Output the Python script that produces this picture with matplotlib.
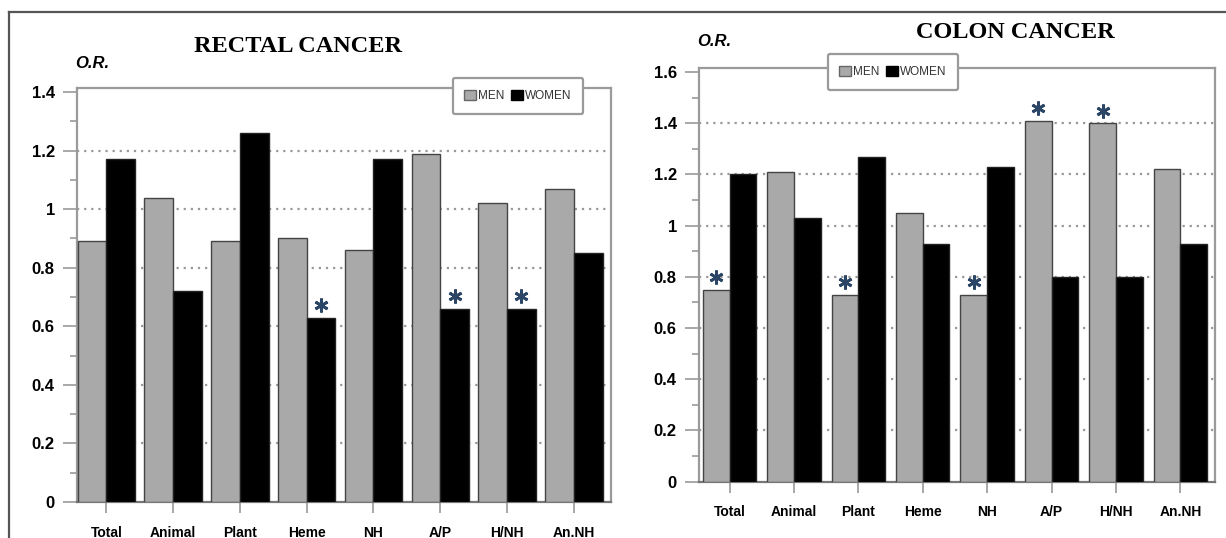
import matplotlib
matplotlib.use("Agg")
import matplotlib.pyplot as plt
import numpy as np
from matplotlib.lines import Line2D
from matplotlib.patches import Patch
from matplotlib.transforms import offset_copy
from matplotlib.ticker import MultipleLocator

categories = ["Total", "Animal", "Plant", "Heme", "NH", "A/P", "H/NH", "An.NH"]

rectal_men = [0.89, 1.04, 0.89, 0.90, 0.86, 1.19, 1.02, 1.07]
rectal_women = [1.17, 0.72, 1.26, 0.63, 1.17, 0.66, 0.66, 0.85]
rectal_sig_women = ["Heme", "A/P", "H/NH"]
rectal_sig_men = []

colon_men = [0.75, 1.21, 0.73, 1.05, 0.73, 1.41, 1.40, 1.22]
colon_women = [1.20, 1.03, 1.27, 0.93, 1.23, 0.80, 0.80, 0.93]
colon_sig_men = ["Total", "Plant", "NH", "A/P", "H/NH"]
colon_sig_women = []

yticks_rectal = [0, 0.2, 0.4, 0.6, 0.8, 1.0, 1.2, 1.4]
ytick_labels_rectal = ["0", "0.2", "0.4", "0.6", "0.8", "1", "1.2", "1.4"]
yticks_colon = [0, 0.2, 0.4, 0.6, 0.8, 1.0, 1.2, 1.4, 1.6]
ytick_labels_colon = ["0", "0.2", "0.4", "0.6", "0.8", "1", "1.2", "1.4", "1.6"]

MEN_C = "#a9a9a9"
WOMEN_C = "#000000"
FRAME_C = "#9a9a9a"
STAR_C = "#2b4566"

W, H = 1226, 538
fig = plt.figure(figsize=(W / 100, H / 100), dpi=100)
plt.rcParams["font.family"] = ["Liberation Sans", "DejaVu Sans"]


def fx(px):
    return px / W


def fy(py):
    return 1 - py / H


def panel(rect, men, women, sig_men, sig_women, yticks, ylabels, ymax,
          xlim, bw, title, title_xy, or_xy, leg_center):
    ax = fig.add_axes(rect)
    x = np.arange(len(categories))
    ax.bar(x - bw / 2, men, bw, color=MEN_C, edgecolor="#444444", linewidth=1.0, zorder=3)
    ax.bar(x + bw / 2, women, bw, color=WOMEN_C, edgecolor="#222222", linewidth=1.0, zorder=3)
    ax.set_ylim(0, ymax)
    ax.set_xlim(*xlim)
    ax.set_yticks(yticks)
    ax.set_yticklabels(ylabels, fontsize=12, fontweight="bold")
    ax.yaxis.set_minor_locator(MultipleLocator(0.1))
    ax.set_xticks(x)
    ax.set_xticklabels(categories, fontsize=10, fontweight="bold")
    ax.tick_params(axis="y", which="major", length=10, width=1.2, color=FRAME_C, pad=6)
    ax.tick_params(axis="y", which="minor", length=5, width=1.2, color=FRAME_C)
    ax.tick_params(axis="x", which="major", length=8, width=1.2, color=FRAME_C, pad=9)
    for s in ax.spines.values():
        s.set_color(FRAME_C)
        s.set_linewidth(1.6)
    ax.spines["bottom"].set_color("#777777")
    for yv in yticks[1:]:
        if yv < ymax - 0.05:
            ax.axhline(yv, color="#999999", linestyle=(0, (1, 2.2)), linewidth=1.6, zorder=1)
    # significance asterisks
    off = offset_copy(ax.transData, fig=fig, x=0, y=9, units="points")
    for i, c in enumerate(categories):
        if c in sig_men:
            ax.plot([x[i] - bw / 2], [men[i]], marker=(6, 2, 0), markersize=10,
                    markeredgewidth=2.0, color=STAR_C, transform=off, zorder=5, clip_on=False)
        if c in sig_women:
            ax.plot([x[i] + bw / 2], [women[i]], marker=(6, 2, 0), markersize=10,
                    markeredgewidth=2.0, color=STAR_C, transform=off, zorder=5, clip_on=False)
    fig.text(fx(title_xy[0]), fy(title_xy[1]), title, ha="center", va="center",
             fontsize=17.5, fontweight="bold", family=["Liberation Serif", "DejaVu Serif"])
    fig.text(fx(or_xy[0]), fy(or_xy[1]), "O.R.", ha="left", va="center",
             fontsize=12, fontweight="bold", style="italic")
    handles = [Patch(facecolor=MEN_C, edgecolor="#666666", linewidth=1.0, label="MEN"),
               Patch(facecolor=WOMEN_C, edgecolor="#000000", linewidth=1.0, label="WOMEN")]
    leg = ax.legend(handles=handles, loc="center", bbox_to_anchor=(fx(leg_center[0]), fy(leg_center[1])),
                    bbox_transform=fig.transFigure, ncol=2, fontsize=8.5, handlelength=1.0,
                    handleheight=1.0, handletextpad=0.15, columnspacing=0.6, borderpad=1.0,
                    fancybox=True, framealpha=1, edgecolor=FRAME_C)
    leg.get_frame().set_linewidth(1.6)
    leg.set_zorder(10)
    for t in leg.get_texts():
        t.set_color("#333333")
    return ax


# Left panel: RECTAL
panel([fx(77), fy(502), (611 - 77) / W, (502 - 88) / H],
      rectal_men, rectal_women, rectal_sig_men, rectal_sig_women,
      yticks_rectal, ytick_labels_rectal, 1.414, (-0.439, 7.556), 0.43,
      "RECTAL CANCER", (298, 47), (75, 64), (518, 96))

# Right panel: COLON
panel([fx(699), fy(481.6), (1215 - 699) / W, (481.6 - 68) / H],
      colon_men, colon_women, colon_sig_men, colon_sig_women,
      yticks_colon, ytick_labels_colon, 1.616, (-0.474, 7.539), 0.415,
      "COLON CANCER", (1015, 32), (697, 42), (893, 72))

# outer border lines
fig.add_artist(Line2D([fx(9), 1.0], [fy(12), fy(12)], transform=fig.transFigure,
                      color="#555555", linewidth=1.6))
fig.add_artist(Line2D([fx(9), fx(9)], [fy(12), 0.0], transform=fig.transFigure,
                      color="#555555", linewidth=1.6))

fig.savefig("out.png", dpi=100)
